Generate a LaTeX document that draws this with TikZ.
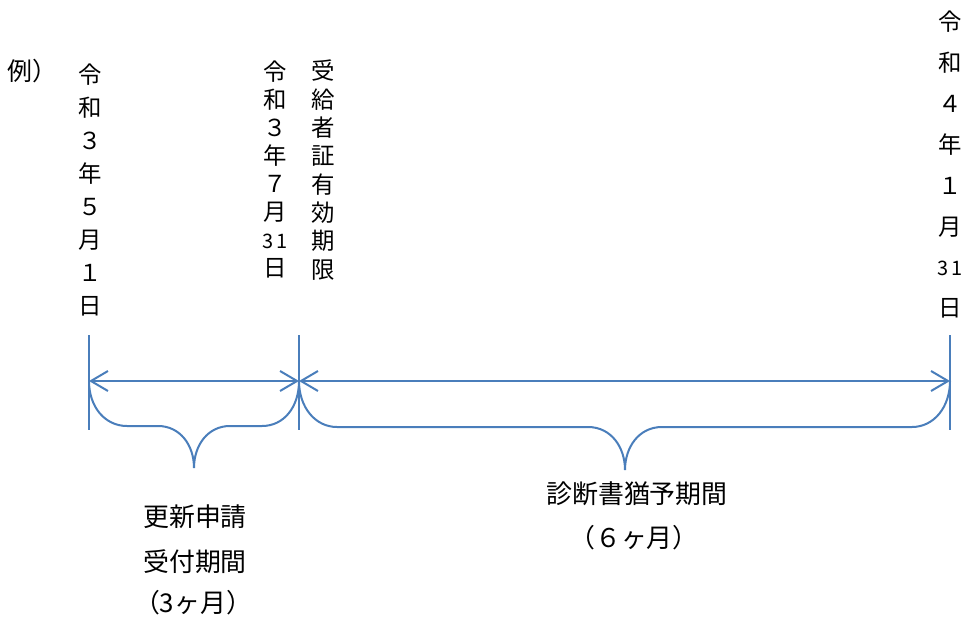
\documentclass[tikz,border=0pt]{standalone}
\usepackage{fontspec}
\setmainfont{Noto Sans CJK JP}
\usetikzlibrary{arrows.meta}
\definecolor{lineblue}{HTML}{4A7EBB}
\tikzset{
  x=1bp, y=-1bp,
  vline/.style={draw=lineblue, line width=2bp},
  span/.style={draw=lineblue, line width=2bp, {Straight Barb[length=17bp,width=20bp]}-{Straight Barb[length=17bp,width=20bp]}},
  brace/.style={draw=lineblue, line width=2bp},
  col/.style={inner sep=0pt, anchor=north, align=center},
  lbl/.style={inner sep=0pt, font=\fontsize{26}{30}\selectfont},
}
\begin{document}
\begin{tikzpicture}
\useasboundingbox (0,0) rectangle (966,625);
% coordinates
\coordinate (a) at (89,381);
\coordinate (b) at (299,381);
\coordinate (c) at (950,381);
\coordinate (at) at (89,335); \coordinate (ab) at (89,430);
\coordinate (bt) at (299,335); \coordinate (bb) at (299,430);
\coordinate (ct) at (950,335); \coordinate (cb) at (950,430);
\coordinate (tip1) at (194,468);
\coordinate (tip2) at (625,470);
% vertical lines
\draw[vline] (at) -- (ab);
\draw[vline] (bt) -- (bb);
\draw[vline] (ct) -- (cb);
% arrows
\draw[span] (a) -- (b);
\draw[span] (b) -- (c);
% brace 1
\draw[brace] (a) .. controls (89,407) and (105,426) .. (127,426) -- (158,426)
  .. controls (180,426) and (194,445) .. (tip1)
  .. controls (194,445) and (208,426) .. (230,426) -- (262,426)
  .. controls (284,426) and (299,407) .. (b);
% brace 2
\draw[brace] (b) .. controls (299,407) and (315,427) .. (337,427) -- (588,427)
  .. controls (611,427) and (625,447) .. (tip2)
  .. controls (625,447) and (639,427) .. (662,427) -- (912,427)
  .. controls (934,427) and (950,407) .. (c);
% texts
\node[inner sep=0pt, anchor=west, font=\fontsize{25}{28}\selectfont] (rei) at (7,71) {例）};
\node[col, font=\fontsize{23.5}{33}\selectfont] (d1) at (90,64)
  {令\\和\\３\\年\\５\\月\\１\\日};
\node[col, font=\fontsize{23.5}{28}\selectfont] (d2) at (275,61)
  {令\\和\\３\\年\\７\\月\\{\fontsize{20}{28}\selectfont 3\,1}\\日};
\node[col, font=\fontsize{23.5}{28.4}\selectfont] (d3) at (323,60)
  {受\\給\\者\\証\\有\\効\\期\\限};
\node[col, font=\fontsize{23.5}{41}\selectfont] (d4) at (950,11)
  {令\\和\\４\\年\\１\\月\\{\fontsize{20}{41}\selectfont 3\,1}\\日};
\node[lbl] (l1) at (195,517) {更新申請};
\node[lbl] (l2) at (195,562) {受付期間};
\node[lbl] (l3) at (193,603) {（3ヶ月）};
\node[lbl] (l4) at (637,494) {診断書猶予期間};
\node[lbl] (l5) at (634,538) {（６ヶ月）};
\end{tikzpicture}
\end{document}
